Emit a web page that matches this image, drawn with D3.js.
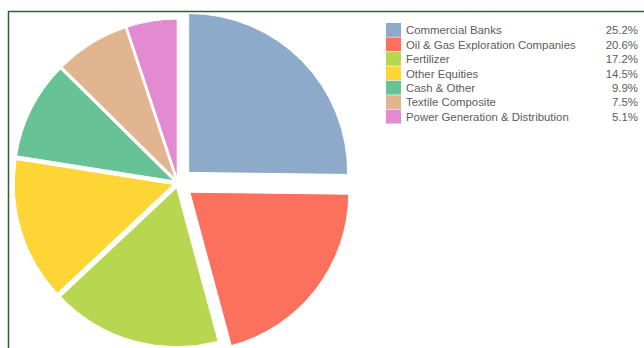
<!DOCTYPE html>
<html>
<head>
<meta charset="utf-8">
<script src="https://cdn.jsdelivr.net/npm/d3@7"></script>
<style>
  body { margin: 0; background: #fff; }
  svg { display: block; }
</style>
</head>
<body>
<div id="chart"></div>
<script>
const categories = ["Commercial Banks", "Oil & Gas Exploration Companies", "Fertilizer",
                    "Other Equities", "Cash & Other", "Textile Composite", "Power Generation & Distribution"];
const shares = [25.2, 20.6, 17.2, 14.5, 9.9, 7.5, 5.1];
const colors = ["#8eaacb", "#fc715e", "#b8d64f", "#fdd535", "#67c396", "#e2b591", "#e38ad0"];

const w = 644, h = 348;
const cx = 178, cy = 183, radius = 159;

let svg = d3.select("#chart")
    .append("svg")
    .attr("width", w)
    .attr("height", h);

// frame (only the top and left edges fall inside the window)
svg.append("path")
    .attr("d", "M8.5," + h + "V11.5H" + w)
    .attr("fill", "none")
    .attr("stroke", "#2f5f3a")
    .attr("stroke-width", 1.5);

let color = d3.scaleOrdinal().domain(categories).range(colors);

let pie = d3.pie().sort(null).value(function(d) { return d.value; });
let arc = d3.arc().innerRadius(0).outerRadius(radius);

let data = categories.map(function(c, i) { return {key: c, value: shares[i]}; });
let arcs = pie(data);

// the two biggest slices are pulled out further than the rest
function offset(d, i) { return i < 2 ? 15 : 5; }

let g = svg.append("g").attr("transform", "translate(" + cx + "," + cy + ")");
g.selectAll("path")
    .data(arcs)
    .enter()
    .append("path")
    .attr("d", arc)
    .attr("fill", function(d) { return color(d.data.key); })
    .attr("stroke", "#fff")
    .attr("stroke-width", 1)
    .attr("transform", function(d, i) {
        let mid = (d.startAngle + d.endAngle) / 2;
        let o = offset(d, i);
        return "translate(" + (Math.sin(mid) * o) + "," + (-Math.cos(mid) * o) + ")";
    });

// legend
let y = d3.scaleBand().domain(categories).range([23, 23 + 14.45 * categories.length]);
let fmt = d3.format(".1f");

let legend = svg.append("g");
legend.selectAll("rect")
    .data(data)
    .enter()
    .append("rect")
    .attr("x", 386)
    .attr("y", function(d) { return y(d.key); })
    .attr("width", 15)
    .attr("height", y.bandwidth() - 0.6)
    .attr("fill", function(d) { return color(d.key); });

legend.selectAll("text.name")
    .data(data)
    .enter()
    .append("text")
    .attr("class", "name")
    .text(function(d) { return d.key; })
    .attr("x", 406)
    .attr("y", function(d) { return y(d.key) + y.bandwidth() / 2 + 4; })
    .attr("font-family", "Liberation Sans, Arial, sans-serif")
    .attr("font-size", "11.4px")
    .attr("fill", "#5c5c5c");

legend.selectAll("text.val")
    .data(data)
    .enter()
    .append("text")
    .attr("class", "val")
    .text(function(d) { return fmt(d.value) + "%"; })
    .attr("text-anchor", "end")
    .attr("x", 638)
    .attr("y", function(d) { return y(d.key) + y.bandwidth() / 2 + 4; })
    .attr("font-family", "Liberation Sans, Arial, sans-serif")
    .attr("font-size", "11.4px")
    .attr("fill", "#5c5c5c");
</script>
</body>
</html>
